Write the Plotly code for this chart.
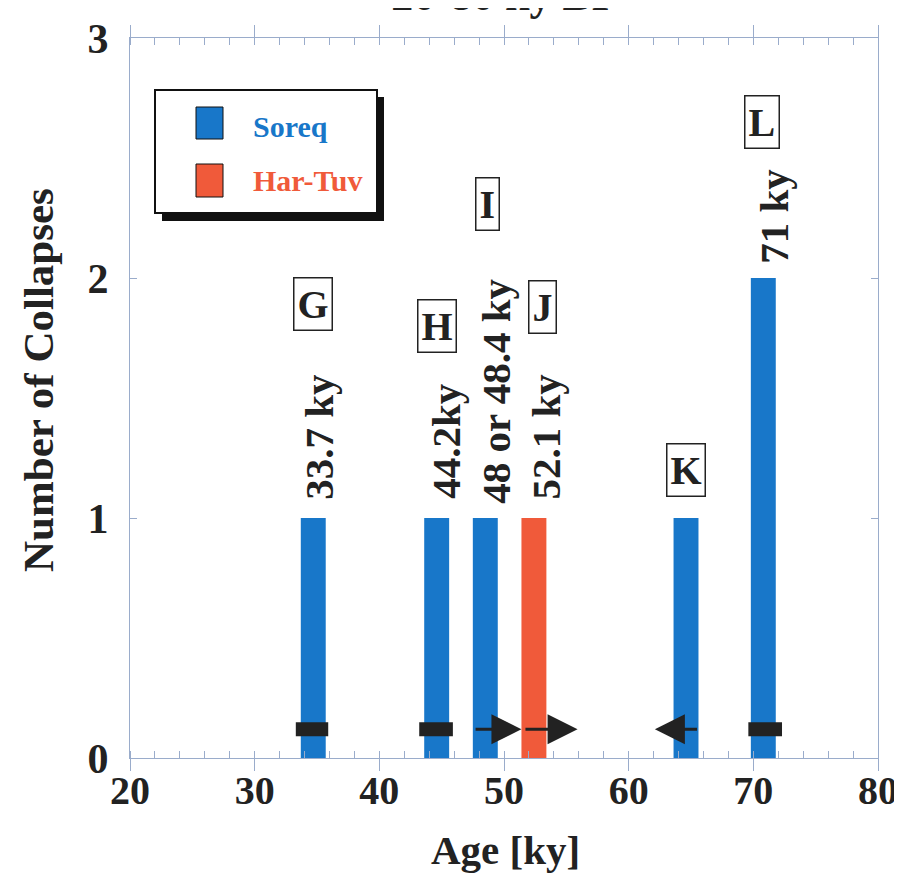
import plotly.graph_objects as go

# ---------------- data ----------------
soreq_name = "Soreq"
hartuv_name = "Har-Tuv"

soreq_age = [34.7, 44.6, 48.5, 64.6, 70.8]
soreq_count = [1, 1, 1, 1, 2]
hartuv_age = [52.4]
hartuv_count = [1]
bar_width = 2.0

age_labels = ["33.7 ky", "44.2ky", "48 or 48.4 ky", "52.1 ky", "71 ky"]
age_label_x = [35.2, 45.4, 49.3, 53.4, 71.6]
age_label_y = [1.07, 1.07, 1.05, 1.07, 2.05]

event_letters = ["G", "H", "I", "J", "K", "L"]
event_letter_x = [34.7, 44.6, 48.7, 53.1, 64.6, 70.7]
event_letter_y = [1.89, 1.80, 2.31, 1.88, 1.20, 2.65]

# age-uncertainty indicators
range_start = [33.3, 43.2, 69.6]
range_end = [35.9, 45.9, 72.3]
arrow_tail = [47.6, 51.6, 65.6]
arrow_tip = [51.4, 55.9, 62.1]
indicator_level = 0.12

x_ticks = [20, 30, 40, 50, 60, 70, 80]
y_ticks = [0, 1, 2, 3]

title_text = "20-80 ky BP"
x_title = "Age [ky]"
y_title = "Number of Collapses"

# ---------------- style ----------------
BLUE = "#1877c9"
ORANGE = "#f05a3a"
AXIS = "#9aaccb"
FONT = "Liberation Serif"
OFF = 8                      # page offset of the plot div (body margin)
W, H = 902 - OFF, 874 - OFF
PL, PR, PT, PB = 130, 878, 38, 758   # plot area in page pixels
L, R, T, B = PL - OFF, 902 - PR, PT - OFF, 874 - PB


def px_x(px):
    return (px - PL) / (PR - PL)


def px_y(py):
    return (PB - py) / (PB - PT)


fig = go.Figure()
fig.add_trace(go.Bar(x=soreq_age, y=soreq_count, width=bar_width, name=soreq_name,
                     marker=dict(color=BLUE, line=dict(width=0))))
fig.add_trace(go.Bar(x=hartuv_age, y=hartuv_count, width=bar_width, name=hartuv_name,
                     marker=dict(color=ORANGE, line=dict(width=0))))

# thick range bars
rx, ry = [], []
for s, e in zip(range_start, range_end):
    rx += [s, e, None]
    ry += [indicator_level, indicator_level, None]
fig.add_trace(go.Scatter(x=rx, y=ry, mode="lines", line=dict(color="#222222", width=14),
                         hoverinfo="skip"))

annotations = []
for tail, tip in zip(arrow_tail, arrow_tip):
    annotations.append(dict(x=tip, y=indicator_level, ax=tail, ay=indicator_level,
                            xref="x", yref="y", axref="x", ayref="y", text="",
                            showarrow=True, arrowhead=2, arrowsize=2, arrowwidth=3,
                            arrowcolor="#222222", standoff=0, startstandoff=0))

for t, x, y in zip(age_labels, age_label_x, age_label_y):
    annotations.append(dict(x=x, y=y, xref="x", yref="y", text=t, textangle=-90,
                            showarrow=False, xanchor="center", yanchor="bottom",
                            font=dict(family=FONT, size=41, color="#222222", weight="bold")))

for t, x, y in zip(event_letters, event_letter_x, event_letter_y):
    annotations.append(dict(x=x, y=y, xref="x", yref="y", text=t, showarrow=False,
                            bordercolor="#222222", borderwidth=1.5, borderpad=3,
                            bgcolor="white",
                            font=dict(family=FONT, size=40, color="#222222", weight="bold")))

# manual legend with shadow
shapes = [
    dict(type="rect", xref="paper", yref="paper", x0=px_x(162), x1=px_x(384),
         y0=px_y(221), y1=px_y(97), fillcolor="#111111", line=dict(width=0)),
    dict(type="rect", xref="paper", yref="paper", x0=px_x(155), x1=px_x(377),
         y0=px_y(213), y1=px_y(90), fillcolor="white", line=dict(color="#111111", width=2)),
    dict(type="rect", xref="paper", yref="paper", x0=px_x(196), x1=px_x(223),
         y0=px_y(139), y1=px_y(107), fillcolor=BLUE, line=dict(color="#111111", width=1)),
    dict(type="rect", xref="paper", yref="paper", x0=px_x(196), x1=px_x(223),
         y0=px_y(197), y1=px_y(164), fillcolor=ORANGE, line=dict(color="#111111", width=1)),
]
annotations.append(dict(x=px_x(251), y=px_y(126), xref="paper", yref="paper",
                        text=soreq_name, showarrow=False, xanchor="left", yanchor="middle",
                        font=dict(family=FONT, size=30, color=BLUE, weight="bold")))
annotations.append(dict(x=px_x(251), y=px_y(181), xref="paper", yref="paper",
                        text=hartuv_name, showarrow=False, xanchor="left", yanchor="middle",
                        font=dict(family=FONT, size=30, color=ORANGE, weight="bold")))

# axis titles placed explicitly
annotations.append(dict(x=px_x(505), y=px_y(850), xref="paper", yref="paper", text=x_title,
                        showarrow=False, xanchor="center", yanchor="middle",
                        font=dict(family=FONT, size=41, color="#222222", weight="bold")))
annotations.append(dict(x=px_x(38), y=px_y(380), xref="paper", yref="paper", text=y_title,
                        showarrow=False, xanchor="center", yanchor="middle", textangle=-90,
                        font=dict(family=FONT, size=43, color="#222222", weight="bold")))

fig.update_layout(
    width=W, height=H,
    margin=dict(l=L, r=R, t=T, b=B, autoexpand=False),
    paper_bgcolor="white", plot_bgcolor="white",
    barmode="overlay", showlegend=False,
    title=dict(text=title_text, x=(505 - OFF) / W, xanchor="center", yref="container",
               y=1.0 - 2 / H, yanchor="bottom",
               font=dict(family=FONT, size=44, color="#222222", weight="bold")),
    annotations=annotations, shapes=shapes,
)
fig.update_xaxes(range=[20, 80], tickvals=x_ticks, showgrid=False, zeroline=False,
                 automargin=False,
                 showline=True, linecolor=AXIS, linewidth=1, mirror="ticks",
                 ticks="outside", ticklen=12, tickcolor=AXIS, ticklabelstandoff=-15,
                 minor=dict(dtick=2, ticks="inside", ticklen=7, tickcolor=AXIS, showgrid=False),
                 tickfont=dict(family=FONT, size=40, color="#222222", weight="bold"))
fig.update_yaxes(range=[0, 3], tickvals=y_ticks, showgrid=False, zeroline=False,
                 automargin=False,
                 showline=True, linecolor=AXIS, linewidth=1, mirror="ticks",
                 ticks="inside", ticklen=7, tickcolor=AXIS, ticklabelstandoff=12,
                 tickfont=dict(family=FONT, size=42, color="#222222", weight="bold"))

fig.write_html("out.html")
